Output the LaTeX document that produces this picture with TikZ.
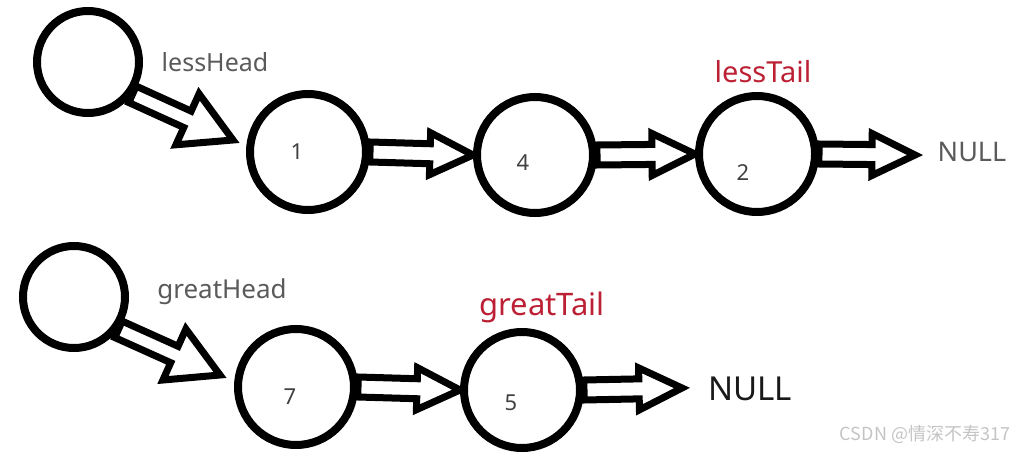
\documentclass[tikz,border=0pt]{standalone}
\usepackage{fontspec}
\setmainfont{Noto Sans}
\newfontfamily\cjkfont{Noto Sans CJK SC}
\usetikzlibrary{calc,positioning}
\definecolor{labelgray}{RGB}{90,90,90}
\definecolor{tailred}{RGB}{188,32,52}
\definecolor{numgray}{RGB}{64,64,64}
\definecolor{markgray}{RGB}{196,196,196}

\begin{document}
\begin{tikzpicture}[
        x=1pt, y=-1pt,
        listnode/.style={circle, draw, line width=8pt, minimum size=116pt, inner sep=0pt},
        headnode/.style={circle, draw, line width=8pt, minimum size=102pt, inner sep=0pt},
        hollow/.style n args={3}{line width=7pt, line join=miter, to path={
            ($(\tikztotarget)!#3!(\tikztostart)$) coordinate (hb)
            ($(\tikztostart)!#1!90:(\tikztotarget)$) -- ($(hb)!#1!90:(\tikztotarget)$)
            -- ($(hb)!#2!90:(\tikztotarget)$) -- (\tikztotarget)
            -- ($(hb)!#2!-90:(\tikztotarget)$) -- ($(hb)!#1!-90:(\tikztotarget)$)
            -- ($(\tikztostart)!#1!-90:(\tikztotarget)$) -- cycle}},
        link/.style={hollow={10pt}{21pt}{43pt}},
        headlink/.style={hollow={9pt}{28pt}{50pt}},
        num/.style={font=\fontsize{22}{22}\selectfont, text=numgray, inner sep=0pt},
        headlabel/.style={anchor=base, text=labelgray, inner sep=0pt},
        taillabel/.style={anchor=base, text=tailred, inner sep=0pt},
        nulllabel/.style={anchor=base, inner sep=0pt}
    ]
        \useasboundingbox (0,0) rectangle (1024,457);

        % Less list
        \node[headnode] (lesshead) at (88,62) {};
        \node[headlabel, font=\fontsize{25}{25}\selectfont] (lessheadtxt) at (215,72) {lessHead};
        \node[listnode] (n1) at (308,152) {};
        \node[num] (v1) at (297,152) {1};
        \node[listnode] (n4) at (535,155) {};
        \node[num] (v4) at (523,163) {4};
        \node[listnode] (n2) at (757,154) {};
        \node[num] (v2) at (743,173) {2};
        \node[taillabel, font=\fontsize{29}{29}\selectfont] (lesstail) at (763,83) {lessTail};
        \node[nulllabel, text=labelgray, font=\fontsize{27}{27}\selectfont] (lessnull) at (972,162) {NULL};
        \coordinate (lesstip) at (233,140);
        \coordinate (lessend) at (915,155);

        \draw[headlink] (lesshead.-36) to (lesstip);
        \draw[link] (n1.east) to (n4.west);
        \draw[link] (n4.east) to (n2.west);
        \draw[link] (n2.east) to (lessend);

        % Great list
        \node[headnode] (greathead) at (74,297) {};
        \node[headlabel, font=\fontsize{26}{26}\selectfont] (greatheadtxt) at (222,298) {greatHead};
        \node[listnode] (n7) at (296,387) {};
        \node[num] (v7) at (290,397) {7};
        \node[listnode] (n5) at (522,390) {};
        \node[num] (v5) at (511,403) {5};
        \node[taillabel, font=\fontsize{31}{31}\selectfont] (greattail) at (542,315) {greatTail};
        \node[nulllabel, text=black!90, font=\fontsize{33}{33}\selectfont] (greatnull) at (750,400) {NULL};
        \coordinate (greattip) at (220,375);
        \coordinate (greatend) at (682,388);

        \draw[headlink] (greathead.-36) to (greattip);
        \draw[link] (n7.east) to (n5.west);
        \draw[link] (n5.east) to (greatend);

        % Watermark
        \node[text=markgray, font=\cjkfont\fontsize{18}{18}\selectfont] (mark) at (925,434) {CSDN @情深不寿317};
    \end{tikzpicture}
\end{document}
